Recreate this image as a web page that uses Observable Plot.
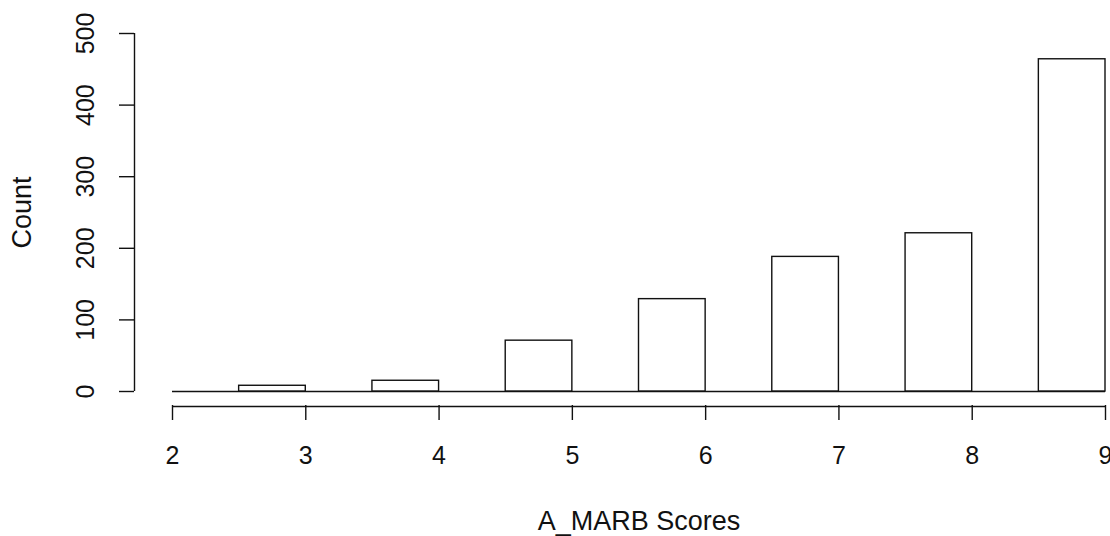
<!DOCTYPE html>
<html>
<head>
<meta charset="utf-8">
<script src="https://cdn.jsdelivr.net/npm/d3@7"></script>
<script src="https://cdn.jsdelivr.net/npm/@observablehq/plot@0.6"></script>
<style>
  html, body { margin: 0; padding: 0; background: #fff; }
  svg { display: block; }
</style>
</head>
<body>
<div id="chart"></div>
<script>
// Histogram bin breaks (width 0.5) and counts per bin
const breaks = [2, 2.5, 3, 3.5, 4, 4.5, 5, 5.5, 6, 6.5, 7, 7.5, 8, 8.5, 9];
const counts = [0, 8, 0, 15, 0, 71, 0, 129, 0, 188, 0, 221, 0, 464];
const xTicks = [2, 3, 4, 5, 6, 7, 8, 9];
const yTicks = [0, 100, 200, 300, 400, 500];
const xDomain = [2, 9];
const yDomain = [0, 500];
const xTitle = "A_MARB Scores";
const yTitle = "Count";

const bins = counts.map((c, i) => ({x1: breaks[i], x2: breaks[i + 1], count: c}));

const font = "'Liberation Sans', Arial, sans-serif";
const fs = 25;
const fsTitle = 27;
const ink = "#111";

const chart = Plot.plot({
  width: 1110,
  height: 536,
  marginLeft: 134,
  marginRight: 5,
  marginTop: 33,
  marginBottom: 131,
  style: {fontFamily: font, background: "#fff", color: ink},
  x: {domain: xDomain, range: [172, 1105], axis: null},
  y: {domain: yDomain, range: [391, 33], axis: null},
  marks: [
    // zero-height bins drawn as a baseline
    Plot.ruleY([0], {x1: xDomain[0], x2: xDomain[1], stroke: ink, strokeWidth: 1.4}),
    Plot.rectY(bins.filter(d => d.count > 0), {x1: "x1", x2: "x2", y: "count", fill: "white", stroke: ink, strokeWidth: 1.4}),
    // x axis
    Plot.ruleY([0], {x1: xDomain[0], x2: xDomain[1], dy: 15, stroke: ink, strokeWidth: 1.4}),
    Plot.axisX({ticks: xTicks, tickSize: 15, tickFormat: () => "", label: null, stroke: ink, strokeWidth: 1.4}),
    Plot.text(xTicks, {x: d => d, y: yDomain[0], dy: 64, text: d => String(d), fontSize: fs, fill: ink, lineAnchor: "middle"}),
    Plot.text([xTitle], {x: (xDomain[0] + xDomain[1]) / 2, y: yDomain[0], dy: 130, text: d => d, fontSize: fsTitle, fill: ink, lineAnchor: "middle"}),
    // y axis
    Plot.ruleX([xDomain[0]], {y1: yDomain[0], y2: yDomain[1], dx: -38, stroke: ink, strokeWidth: 1.4}),
    Plot.axisY({ticks: yTicks, tickSize: 15, tickFormat: () => "", label: null, stroke: ink, strokeWidth: 1.4}),
    Plot.text(yTicks, {x: xDomain[0], y: d => d, dx: -87, rotate: -90, text: d => String(d), fontSize: fs, fill: ink, lineAnchor: "middle", textAnchor: "middle"}),
    Plot.text([yTitle], {x: xDomain[0], y: (yDomain[0] + yDomain[1]) / 2, dx: -150, rotate: -90, text: d => d, fontSize: fsTitle, fill: ink, lineAnchor: "middle", textAnchor: "middle"})
  ]
});
document.getElementById("chart").appendChild(chart);
</script>
</body>
</html>
